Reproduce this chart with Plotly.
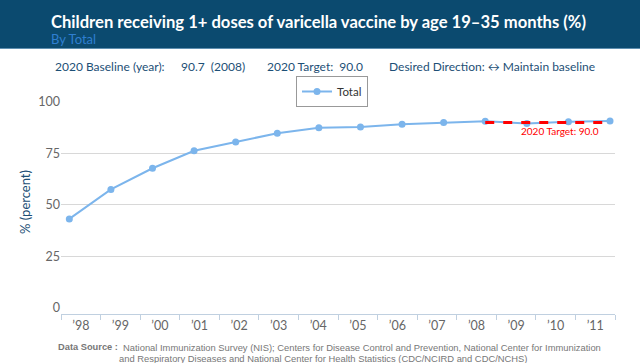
import plotly.graph_objects as go

# ---- data ----
years = [1998, 1999, 2000, 2001, 2002, 2003, 2004, 2005, 2006, 2007, 2008, 2009, 2010, 2011]
year_labels = ["’98", "’99", "’00", "’01", "’02", "’03", "’04", "’05", "’06", "’07", "’08", "’09", "’10", "’11"]
total_values = [43.2, 57.5, 67.8, 76.3, 80.6, 84.8, 87.5, 87.9, 89.2, 90.0, 90.7, 89.6, 90.4, 90.8]
target_years = [2008, 2011]
target_values = [90.0, 90.0]
y_ticks = [0, 25, 50, 75, 100]
grid_ticks = [25, 50, 75, 100]

W, H = 640, 363
L, R, T, B = 61, 25, 102, 49
PW = W - L - R
PH = H - T - B

def px(x):
    return (x - L) / PW

def py(y):
    return (H - B - y) / PH

fig = go.Figure()

# invisible trace to populate category axis
fig.add_trace(go.Scatter(x=year_labels, y=[None] * len(year_labels), xaxis="x", yaxis="y",
                         showlegend=False, hoverinfo="skip", mode="markers"))

fig.add_trace(go.Scatter(
    x=years, y=total_values, name="Total", xaxis="x2", yaxis="y",
    mode="lines+markers",
    line=dict(color="#7cb5ec", width=2),
    marker=dict(color="#7cb5ec", size=7),
))

fig.add_trace(go.Scatter(
    x=target_years, y=target_values, xaxis="x2", yaxis="y",
    mode="lines", showlegend=False,
    line=dict(color="#ff0000", width=3, dash="dash"),
))

# make yaxis2 exist (attach an invisible trace)
fig.add_trace(go.Scatter(x=[None], y=[None], yaxis="y2", xaxis="x", showlegend=False, hoverinfo="skip"))

dark = "#1d4f76"

fig.update_layout(
    width=W, height=H,
    margin=dict(l=L, r=R, t=T, b=B, autoexpand=False),
    paper_bgcolor="white", plot_bgcolor="white",
    font=dict(family="Lato, Open Sans, sans-serif", color="#555555", size=12),
    xaxis=dict(
        type="category", categoryorder="array", categoryarray=year_labels,
        range=[-0.5, len(year_labels) - 0.5],
        tickson="boundaries", ticks="outside", ticklen=5, tickcolor="#c0d0e0",
        showline=True, linecolor="#c0d0e0", linewidth=1,
        showgrid=False, zeroline=False, fixedrange=True,
        tickfont=dict(size=12.5, color="#666666"),
    ),
    xaxis2=dict(
        overlaying="x", anchor="y", range=[1997.80, 2011.12],
        showgrid=False, showline=False, showticklabels=False, zeroline=False, ticks="",
    ),
    yaxis=dict(
        range=[-3, 100], tickvals=y_ticks, showgrid=False, zeroline=False,
        showline=False, ticks="", tickfont=dict(size=12.5, color="#666666"),
    ),
    yaxis2=dict(
        overlaying="y", range=[-3, 100], tickvals=grid_ticks, showgrid=True,
        gridcolor="#d8d8d8", gridwidth=1, showticklabels=False, zeroline=False,
    ),
    legend=dict(
        orientation="h", x=px(332), xanchor="center", y=py(91.5), yanchor="middle",
        bordercolor="#999999", borderwidth=1, bgcolor="white",
        font=dict(size=11.5, color="#333333"), itemwidth=30,
    ),
    showlegend=True,
)

shapes = [
    dict(type="rect", xref="paper", yref="paper", x0=px(0), x1=px(W), y0=py(48), y1=py(0),
         fillcolor="#0b4a6f", line=dict(width=0), layer="below"),
    dict(type="line", xref="paper", yref="paper", x0=px(0), x1=px(W), y0=py(48.5), y1=py(48.5),
         line=dict(color="#5f8fb0", width=1)),
]
fig.update_layout(shapes=shapes)

ann = []
def text(x, y, s, size=12, color=dark, xanchor="left", family=None, **kw):
    d = dict(xref="paper", yref="paper", x=px(x), y=py(y), text=s, showarrow=False,
             xanchor=xanchor, yanchor="middle", font=dict(size=size, color=color))
    if family:
        d["font"]["family"] = family
    d.update(kw)
    ann.append(d)

arial = "Liberation Sans, Arial, sans-serif"
text(49, 22, "<b>Children receiving 1+ doses of varicella vaccine by age 19–35 months (%)</b>",
     size=16.6, color="white", family="Lato")
text(49, 39, "By Total", size=13, color="#2f7fd1")
text(53, 66, "2020 Baseline (year):", size=12)
text(179, 66, "90.7  (2008)", size=12)
text(265, 66, "2020 Target:  90.0", size=12)
text(387, 66, "Desired Direction: ↔ Maintain baseline", size=12)
text(25, 202, "% (percent)", size=13, color=dark, xanchor="center", textangle=-90)
text(56, 347, "<b>Data Source :</b>", size=9.3, color="#777777", family=arial)
text(121, 347, "National Immunization Survey (NIS); Centers for Disease Control and Prevention, National Center for Immunization",
     size=9.4, color="#777777", family=arial)
text(117, 358, "and Respiratory Diseases and National Center for Health Statistics (CDC/NCIRD and CDC/NCHS)",
     size=9.4, color="#777777", family=arial)
ann.append(dict(xref="x2", yref="y", x=2009.8, y=90, yshift=-8, text="2020 Target: 90.0",
                showarrow=False, xanchor="center", yanchor="middle",
                font=dict(size=10, color="#ff0000")))
fig.update_layout(annotations=ann)

fig.write_html("out.html", config={"displayModeBar": False},
               post_script="document.body.style.margin='0';document.body.style.padding='0';")
